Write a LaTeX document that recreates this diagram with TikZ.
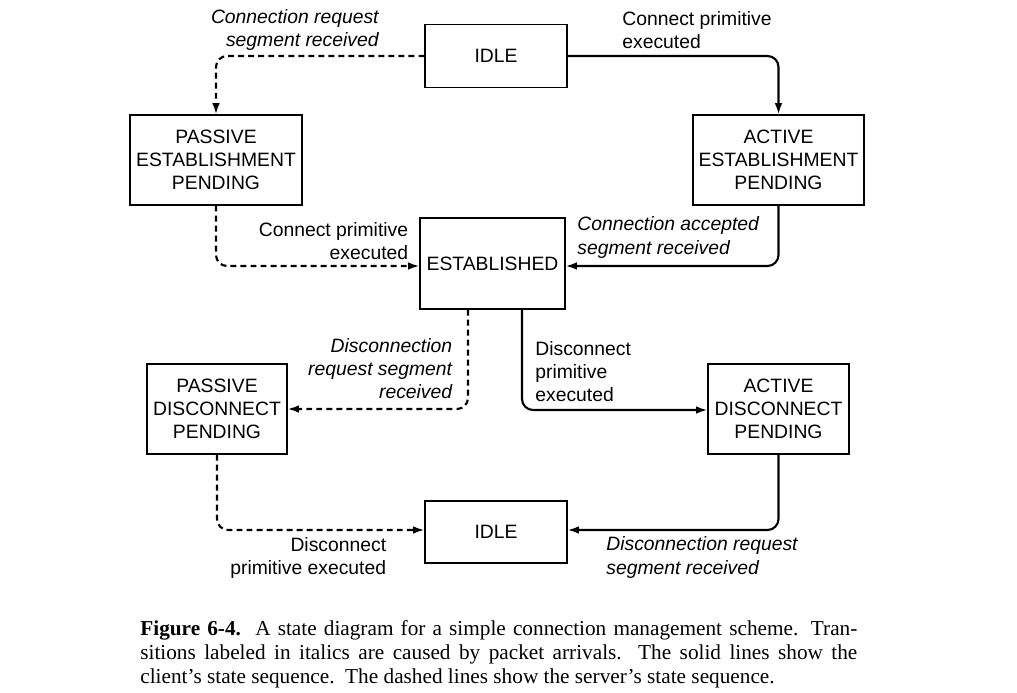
\documentclass[tikz,border=0pt]{standalone}
\usepackage{fontspec}
\setmainfont{Liberation Serif}
\setsansfont{Liberation Sans}
\usetikzlibrary{arrows.meta}

\begin{document}
\begin{tikzpicture}[
  state/.style  = {rectangle, draw=black, line width=0.6pt,
                   minimum height=1.8cm, align=center, inner sep=0pt,
                   font=\fontsize{11}{13.1}\selectfont\sffamily},
  lbl/.style    = {inner sep=0pt,
                   font=\fontsize{11}{13.1}\selectfont\sffamily},
  evt/.style    = {inner sep=0pt,
                   font=\fontsize{11}{13.1}\selectfont\sffamily\itshape},
  link/.style   = {-{Latex[length=6.5pt,width=4.4pt]}, line width=1.2pt,
                   rounded corners=0.22cm},
  client/.style = {link},
  server/.style = {link, dash pattern=on 3.4pt off 2.3pt},
]
\useasboundingbox (0,0) rectangle (20.34,-13.86);

%% ── States ───────────────────────────────────────────────────────────────
\node[state, minimum width=2.84cm, minimum height=1.26cm] (idleT) at (9.92,-1.12)  {IDLE};
\node[state, minimum width=3.44cm] (pep)   at (4.32,-3.20)  {PASSIVE\\ESTABLISHMENT\\PENDING};
\node[state, minimum width=3.42cm] (aep)   at (15.57,-3.20) {ACTIVE\\ESTABLISHMENT\\PENDING};
\node[state, minimum width=2.90cm, minimum height=1.82cm] (est) at (9.85,-5.27) {ESTABLISHED};
\node[state, minimum width=2.80cm] (pdp)   at (4.34,-8.18)  {PASSIVE\\DISCONNECT\\PENDING};
\node[state, minimum width=2.82cm] (adp)   at (15.57,-8.18) {ACTIVE\\DISCONNECT\\PENDING};
\node[state, minimum width=2.84cm, minimum height=1.24cm] (idleB) at (9.92,-10.64) {IDLE};

%% ── Transitions ──────────────────────────────────────────────────────────
\draw[server] (idleT.west) -| (pep.north);
\draw[client] (idleT.east) -| (aep.north);
\draw[server] (pep.south) |- ([yshift=-0.05cm]est.west);
\draw[client] (aep.south) |- ([yshift=-0.05cm]est.east);
\draw[server] ([xshift=-0.49cm]est.south) |- (pdp.east);
\draw[client] ([xshift=0.59cm]est.south)  |- ([yshift=-0.02cm]adp.west);
\draw[server] (pdp.south) |- ([yshift=0.04cm]idleB.west);
\draw[client] (adp.south) |- ([yshift=0.04cm]idleB.east);

%% ── Labels ───────────────────────────────────────────────────────────────
\node[evt, anchor=east, align=right] (lblConnReq) at (7.58,-0.60)  {Connection request\\segment received};
\node[lbl, anchor=west, align=left]  (lblConnCl)  at (12.44,-0.60) {Connect primitive\\executed};
\node[lbl, anchor=east, align=right] (lblConnSv)  at (8.17,-4.83)  {Connect primitive\\executed};
\node[evt, anchor=west, align=left]  (lblConnAcc) at (11.54,-4.75) {Connection accepted\\segment received};
\node[evt, anchor=east, align=right] (lblDiscReq) at (9.05,-7.38)  {Disconnection\\request segment\\received};
\node[lbl, anchor=west, align=left]  (lblDiscCl)  at (10.70,-7.44) {Disconnect\\primitive\\executed};
\node[lbl, anchor=east, align=right] (lblDiscSv)  at (7.73,-11.16) {Disconnect\\primitive executed};
\node[evt, anchor=west, align=left]  (lblDiscReq2) at (12.12,-11.15) {Disconnection request\\segment received};

%% ── Caption ──────────────────────────────────────────────────────────────
\node[anchor=west, inner sep=0pt, text width=14.34cm, align=justify,
      font=\fontsize{12.1}{13.66}\selectfont\rmfamily] (caption) at (2.80,-13.08)
  {\textbf{Figure 6-4.}\ \ A state diagram for a simple connection management scheme.  Tran-\linebreak
   sitions labeled in italics are caused by packet arrivals.  The solid lines show the\linebreak
   client's state sequence.\ \ The dashed lines show the server's state sequence.};

\end{tikzpicture}
\end{document}
